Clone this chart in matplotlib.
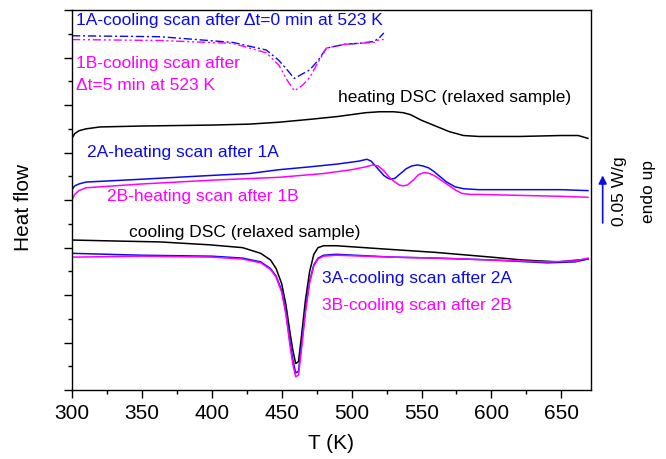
import matplotlib
matplotlib.use("Agg")
import matplotlib.pyplot as plt
from matplotlib.ticker import MultipleLocator, NullFormatter

plt.rcParams['font.family'] = ['Liberation Sans', 'DejaVu Sans']

# 1A / 1B cooling scans (only recorded from 523 K down)
t_1 = [300, 363, 415, 439, 448, 454, 459, 465, 470, 476, 482, 495, 505, 516, 520, 523]
hf_1a = [.373, .372, .366, .358, .347, .337, .328, .333, .337, .347, .360, .364, .365, .367, .371, .376]
hf_1b = [.369, .368, .365, .355, .342, .326, .315, .321, .329, .345, .360, .364, .365, .366, .369, .369]

# heating DSC, relaxed sample
t_heat = [300, 302, 305, 310, 320, 350, 400, 427, 448, 470, 490, 510, 520, 530, 537, 542,
          546, 550, 555, 560, 565, 570, 575, 580, 591, 620, 650, 662, 669]
hf_heat = [.265, .270, .273, .275, .277, .278, .279, .280, .282, .285, .288, .292, .293, .293,
           .292, .290, .287, .284, .281, .278, .275, .272, .270, .268, .267, .267, .268, .268, .265]

# 2A / 2B heating scans
t_2a = [300, 302, 305, 310, 350, 400, 427, 448, 470, 490, 505, 511, 514, 517, 520, 523, 526,
        528, 531, 535, 539, 543, 547, 551, 555, 559, 563, 568, 574, 580, 591, 620, 650, 669]
hf_2a = [.211, .215, .217, .219, .222, .226, .228, .232, .235, .238, .241, .243, .241, .236,
         .231, .226, .223, .222, .223, .228, .233, .236, .237, .236, .234, .230, .225, .219,
         .214, .212, .211, .211, .211, .210]
t_2b = [300, 302, 305, 310, 350, 400, 448, 480, 500, 510, 515, 519, 523, 527, 531, 534, 537,
        540, 544, 548, 552, 556, 560, 565, 570, 575, 579, 585, 591, 620, 650, 669]
hf_2b = [.200, .206, .210, .213, .217, .221, .224, .228, .232, .235, .237, .236, .231, .224,
         .219, .216, .215, .216, .221, .227, .229, .228, .225, .220, .215, .210, .207, .206,
         .206, .205, .204, .203]

# cooling DSC, relaxed sample
t_cool = [300, 330, 363, 398, 422, 435, 442, 446, 450, 453, 456, 458, 460, 462, 464, 467,
          470, 473, 476, 480, 489, 529, 560, 600, 622, 648, 669]
hf_cool = [.158, .157, .156, .153, .150, .144, .137, .128, .112, .090, .060, .042, .028, .030,
           .055, .095, .125, .143, .150, .152, .152, .148, .145, .140, .137, .135, .138]

# 3A / 3B cooling scans
t_3 = [300, 350, 400, 422, 435, 442, 446, 450, 453, 456, 458, 460, 462, 464, 467, 470, 473,
       476, 480, 489, 529, 560, 600, 640, 660, 669]
hf_3a = [.144, .142, .141, .139, .135, .128, .120, .105, .082, .050, .032, .018, .020, .045,
         .085, .115, .132, .139, .142, .143, .140, .139, .137, .134, .135, .138]
hf_3b = [.140, .141, .140, .138, .134, .127, .119, .103, .080, .046, .027, .014, .016, .041,
         .082, .113, .131, .138, .141, .142, .140, .139, .137, .135, .136, .139]

x_ticks = [300, 350, 400, 450, 500, 550, 600, 650]
scale_bar = 0.05  # W/g

BLUE = '#0a0af0'
MAGENTA = '#ff00ff'

fig = plt.figure(figsize=(6.66, 4.59), dpi=100)
ax = fig.add_axes([0.108, 0.150, 0.779, 0.828])

ax.plot(t_1, hf_1a, color=BLUE, lw=1.0, dashes=[6, 2, 1.5, 2])
ax.plot(t_1, hf_1b, color=MAGENTA, lw=1.0, dashes=[6, 2, 1.5, 2, 1.5, 2])
ax.plot(t_heat, hf_heat, color='black', lw=1.1)
ax.plot(t_2a, hf_2a, color=BLUE, lw=1.1)
ax.plot(t_2b, hf_2b, color=MAGENTA, lw=1.1)
ax.plot(t_cool, hf_cool, color='black', lw=1.1)
ax.plot(t_3, hf_3a, color=BLUE, lw=1.1)
ax.plot(t_3, hf_3b, color=MAGENTA, lw=1.1)

fs = 12.5
ax.text(303, .389, '1A-cooling scan after \u0394t=0 min at 523 K', color=BLUE, fontsize=fs, va='center')
ax.text(303, .344, '1B-cooling scan after', color=MAGENTA, fontsize=fs, va='center')
ax.text(303, .321, '\u0394t=5 min at 523 K', color=MAGENTA, fontsize=fs, va='center')
ax.text(490, .308, 'heating DSC (relaxed sample)', color='black', fontsize=fs, va='center')
ax.text(311, .2505, '2A-heating scan after 1A', color=BLUE, fontsize=fs, va='center')
ax.text(325, .2042, '2B-heating scan after 1B', color=MAGENTA, fontsize=fs, va='center')
ax.text(341, .1663, 'cooling DSC (relaxed sample)', color='black', fontsize=fs, va='center')
ax.text(479, .1179, '3A-cooling scan after 2A', color=BLUE, fontsize=fs, va='center')
ax.text(479, .0895, '3B-cooling scan after 2B', color=MAGENTA, fontsize=fs, va='center')

# scale bar outside the right spine
y0 = 0.176
ax.annotate('', xy=(1.023, y0 + scale_bar), xytext=(1.023, y0),
            xycoords=('axes fraction', 'data'), textcoords=('axes fraction', 'data'),
            arrowprops=dict(arrowstyle='-|>', color=BLUE, lw=1.2, mutation_scale=12,
                            shrinkA=0, shrinkB=0), annotation_clip=False)
ax.text(1.055, .209, '0.05 W/g', transform=ax.get_yaxis_transform(), rotation=90,
        fontsize=fs, ha='center', va='center', clip_on=False)
ax.text(1.112, .209, 'endo up', transform=ax.get_yaxis_transform(), rotation=90,
        fontsize=fs, ha='center', va='center', clip_on=False)

ax.set_xlim(300, 671)
ax.set_ylim(0, 0.4)
ax.set_xticks(x_ticks)
ax.xaxis.set_minor_locator(MultipleLocator(25))
ax.yaxis.set_major_locator(MultipleLocator(0.05))
ax.yaxis.set_minor_locator(MultipleLocator(0.025))
ax.yaxis.set_major_formatter(NullFormatter())
ax.tick_params(which='both', direction='out', top=False, right=False, width=1.0)
ax.tick_params(which='major', length=6)
ax.tick_params(which='minor', length=3)
ax.tick_params(axis='x', labelsize=15, pad=4)
for s in ax.spines.values():
    s.set_linewidth(1.0)

ax.set_xlabel('T (K)', fontsize=15, labelpad=8)
ax.set_ylabel('Heat flow', fontsize=15)
ax.yaxis.set_label_coords(-0.075, 0.48)

fig.savefig('out.png', dpi=100)
